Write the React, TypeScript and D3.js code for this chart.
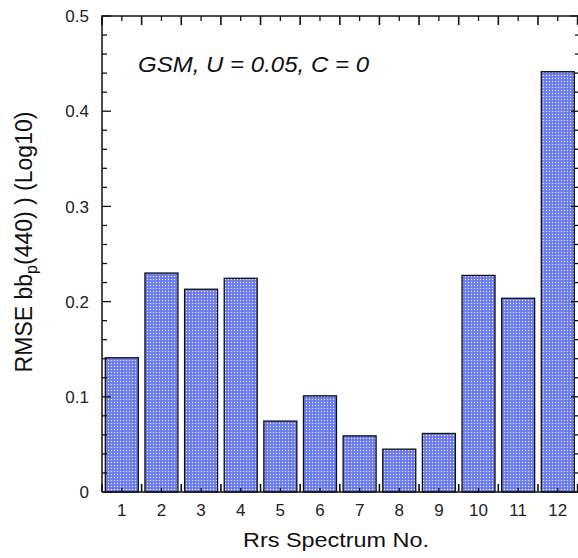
import React from "react";
import * as d3 from "d3";

const categories = ["1", "2", "3", "4", "5", "6", "7", "8", "9", "10", "11", "12"];
const rmseValues = [0.141, 0.230, 0.213, 0.2245, 0.0745, 0.101, 0.059, 0.045, 0.0615, 0.2275, 0.2035, 0.4415];
const yTickLabels = ["0", "0.1", "0.2", "0.3", "0.4", "0.5"];
const annotation = "GSM, U = 0.05, C = 0";
const xTitle = "Rrs Spectrum No.";

const W = 578;
const H = 558;
const left = 102;
const right = 577.6;
const top = 16;
const bottom = 492;
const font = "'Liberation Sans', Arial, Helvetica, sans-serif";

export default function App() {
  const x = d3.scaleLinear().domain([0.5, categories.length + 0.5]).range([left, right]);
  const y = d3.scaleLinear().domain([0, 0.5]).range([bottom, top]);
  const barW = 33;
  const minorY = d3.range(0, 0.5001, 0.02);
  const majorY = yTickLabels.map((t) => +t);
  const centers = categories.map((_, i) => i + 1);
  const bounds = d3.range(0.5, categories.length + 0.51, 1);
  const axisX = 579;

  return (
    <svg width={W} height={H} style={{ position: "absolute", left: 0, top: 0, background: "#fff" }} fontFamily={font}>
      <defs>
        <pattern id="dots" width={3} height={3} patternUnits="userSpaceOnUse">
          <rect width={3} height={3} fill="#7787ef" />
          <rect x={0} y={0} width={1} height={1} fill="#e2e6ff" />
          <rect x={1.5} y={1.5} width={1} height={1} fill="#3e4ed2" />
        </pattern>
      </defs>

      {rmseValues.map((v, i) => (
        <rect
          key={i}
          x={x(i + 1) - barW / 2}
          y={y(v)}
          width={barW}
          height={y(0) - y(v)}
          fill="url(#dots)"
          stroke="#111"
          strokeWidth={1.3}
        />
      ))}

      <path d={`M${left},${bottom}V${top}H${axisX}`} fill="none" stroke="#111" strokeWidth={1.5} />
      <path d={`M${left},${bottom}H${axisX}V${top}`} fill="none" stroke="#111" strokeWidth={1.5} />

      {minorY.map((t, i) => {
        const isMajor = majorY.some((m) => Math.abs(m - t) < 1e-6);
        const len = isMajor ? 9 : 5;
        return (
          <g key={i} stroke="#111" strokeWidth={1.3}>
            <line x1={left} x2={left + len} y1={y(t)} y2={y(t)} />
            <line x1={axisX} x2={axisX - (isMajor ? 8 : 4)} y1={y(t)} y2={y(t)} />
          </g>
        );
      })}

      {centers.map((c) => (
        <g key={"c" + c} stroke="#111" strokeWidth={1.3}>
          <line x1={x(c)} x2={x(c)} y1={bottom} y2={bottom - 4} />
          <line x1={x(c)} x2={x(c)} y1={top} y2={top + 5} />
        </g>
      ))}
      {bounds.map((b, i) => (
        <g key={"b" + i} stroke="#111" strokeWidth={1.6}>
          <line x1={x(b)} x2={x(b)} y1={bottom} y2={bottom - 8} />
          <line x1={x(b)} x2={x(b)} y1={top} y2={top + 9} />
        </g>
      ))}

      {yTickLabels.map((t) => (
        <text key={t} x={89} y={y(+t)} dy="0.36em" textAnchor="end" fontSize={17} fill="#222">
          {t}
        </text>
      ))}

      {categories.map((c, i) => (
        <text key={c} x={x(i + 1)} y={516} textAnchor="middle" fontSize={17} fill="#222">
          {c}
        </text>
      ))}

      <text x={243} y={547} fontSize={21} fill="#111" textLength={186} lengthAdjust="spacingAndGlyphs">
        {xTitle}
      </text>

      <text x={138} y={72} fontSize={22} fontStyle="italic" fill="#111" textLength={231} lengthAdjust="spacingAndGlyphs">
        {annotation}
      </text>

      <text transform="translate(32,242) rotate(-90)" textAnchor="middle" fontSize={23} fill="#111">
        <tspan>RMSE bb</tspan>
        <tspan fontSize={16} dy={5}>p</tspan>
        <tspan dy={-5}>(440) ) (Log10)</tspan>
      </text>
    </svg>
  );
}
